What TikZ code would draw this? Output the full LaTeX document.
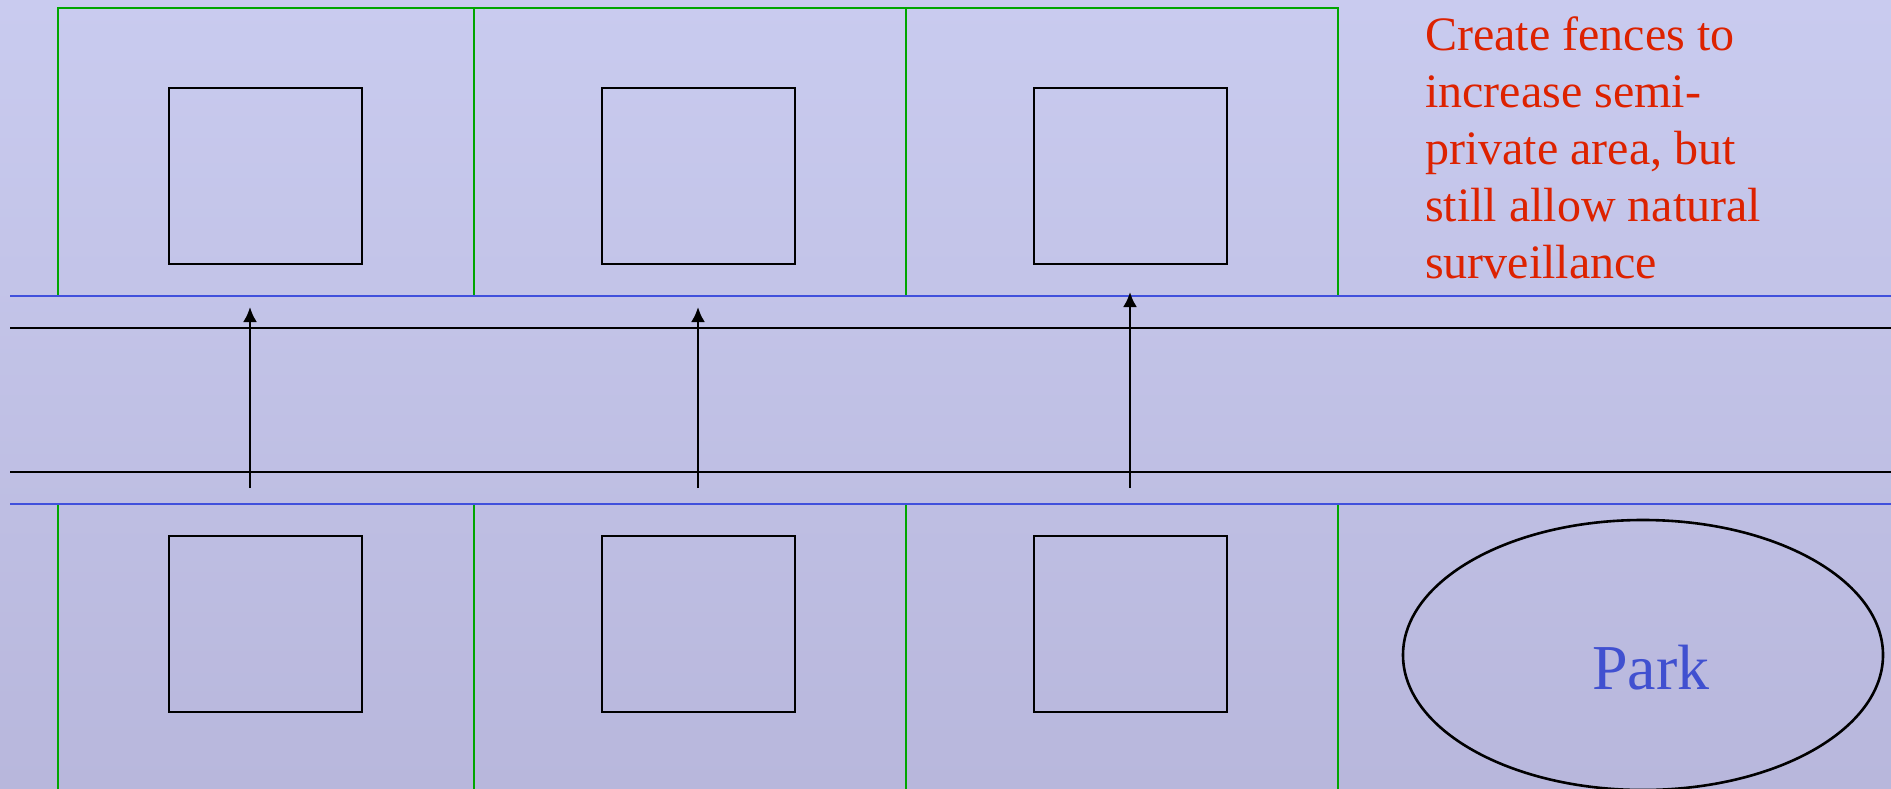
\documentclass[tikz,border=0pt]{standalone}
\usepackage{fontspec}
\setmainfont{Liberation Serif}
\usetikzlibrary{arrows.meta,shapes.geometric}
\definecolor{bgtop}{HTML}{C9CBEF}
\definecolor{bgbot}{HTML}{B8B7DC}
\definecolor{fencegreen}{HTML}{00A600}
\definecolor{roadblue}{HTML}{4050DC}
\definecolor{notered}{HTML}{DD2200}
\definecolor{parkblue}{HTML}{4050D0}
\tikzset{
  house/.style={draw=black, line width=2.6pt, rectangle, minimum width=193pt, minimum height=176pt, inner sep=0pt},
  fence/.style={draw=fencegreen, line width=2.6pt},
  edgeline/.style={draw=roadblue, line width=2.6pt},
  roadline/.style={draw=black, line width=2.8pt},
  sight/.style={draw=black, line width=2.6pt, -{Latex[length=15pt,width=14pt]}},
  parkshape/.style={draw=black, line width=2.6pt, ellipse, minimum width=480pt, minimum height=270pt, inner sep=0pt},
  note/.style={text=notered, align=left, inner sep=0pt, font=\fontsize{48}{57}\selectfont},
  parklabel/.style={text=parkblue, inner sep=0pt, font=\fontsize{64}{70}\selectfont}
}
\begin{document}
\begin{tikzpicture}[x=1pt,y=-1pt]
\shade[top color=bgtop, bottom color=bgbot] (0,0) rectangle (1891,789);
\useasboundingbox (0,0) rectangle (1891,789);
% fences (top)
\draw[fence] (58,296) -- (58,8) -- (1338,8) -- (1338,296);
\draw[fence] (474,8) -- (474,296);
\draw[fence] (906,8) -- (906,296);
% fences (bottom)
\foreach \fx in {58,474,906,1338} \draw[fence] (\fx,504) -- (\fx,789);
% road edges
\draw[edgeline] (10,296) -- (1891,296);
\draw[edgeline] (10,504) -- (1891,504);
\draw[roadline] (10,328) -- (1891,328);
\draw[roadline] (10,472) -- (1891,472);
% houses
\node[house] (h1) at (265.5,176) {};
\node[house] (h2) at (698.5,176) {};
\node[house] (h3) at (1130.5,176) {};
\node[house] (h4) at (265.5,624) {};
\node[house] (h5) at (698.5,624) {};
\node[house] (h6) at (1130.5,624) {};
% lines of sight
\coordinate (s1) at (250,488); \coordinate (e1) at (250,307);
\coordinate (s2) at (698,488); \coordinate (e2) at (698,307);
\coordinate (s3) at (1130,488); \coordinate (e3) at (1130,292);
\draw[sight] (s1) -- (e1);
\draw[sight] (s2) -- (e2);
\draw[sight] (s3) -- (e3);
% note (base anchor = baseline of last line)
\node[note, anchor=base west] (note) at (1425,278) {Create fences to\\increase semi-\\private area, but\\still allow natural\\surveillance};
% park
\node[parkshape] (park) at (1643,655) {};
\node[parklabel, anchor=base] (parktext) at ([xshift=8pt,yshift=-34pt]park.center) {Park};
\end{tikzpicture}
\end{document}
